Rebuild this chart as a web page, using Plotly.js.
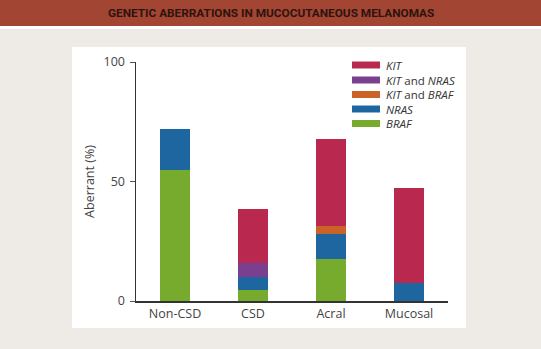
<!DOCTYPE html>
<html><head><meta charset="utf-8">
<script src="https://cdn.plot.ly/plotly-3.0.1.min.js"></script>
<style>html,body{margin:0;padding:0;background:#EEEBE6;}#chart{width:541px;height:349px;}</style>
</head><body><div id="chart"></div>
<script>
// Data
const categories = ["Non-CSD", "CSD", "Acral", "Mucosal"];
const braf      = [55, 4.6, 17.6, 0];
const nras      = [17, 5.6, 10.4, 7.4];
const kitBraf   = [0, 0, 3.4, 0];
const kitNras   = [0, 5.6, 0, 0];
const kit       = [0, 22.6, 36.3, 39.8];
const seriesNames = ["BRAF", "NRAS", "KIT and BRAF", "KIT and NRAS", "KIT"];
const legendLabels = ["<i>KIT</i>", "<i>KIT</i> and <i>NRAS</i>", "<i>KIT</i> and <i>BRAF</i>", "<i>NRAS</i>", "<i>BRAF</i>"];
const yTicks = [0, 50, 100];

const colors = {BRAF:"#76AB2D", NRAS:"#1E66A0", "KIT and BRAF":"#CB6228", "KIT and NRAS":"#7A3F8F", KIT:"#B8284F"};
const seriesVals = [braf, nras, kitBraf, kitNras, kit];

const W = 541, H = 349;
const M = {l:136, r:93, t:62, b:48};
const pw = W - M.l - M.r, ph = H - M.t - M.b;
const px = x => (x - M.l) / pw;
const py = y => (H - M.b - y) / ph;

const traces = seriesNames.map((n, i) => ({
  type: "bar", name: n, x: categories, y: seriesVals[i],
  marker: {color: colors[n], line: {width: 0}}, width: 0.385, showlegend: false, hoverinfo: "none"
}));

const shapes = [
  {type:"rect", xref:"paper", yref:"paper", x0:px(0), x1:px(W), y0:py(26), y1:py(0), fillcolor:"#A34533", line:{width:0}, layer:"below"},
  {type:"rect", xref:"paper", yref:"paper", x0:px(0), x1:px(W), y0:py(29), y1:py(26), fillcolor:"#FFFFFF", line:{width:0}, layer:"below"},
  {type:"rect", xref:"paper", yref:"paper", x0:px(72), x1:px(466), y0:py(328), y1:py(47), fillcolor:"#FFFFFF", line:{width:0}, layer:"below"}
];
const annotations = [
  {xref:"paper", yref:"paper", x:px(270.5), y:py(13.5), text:"<b>GENETIC ABERRATIONS IN MUCOCUTANEOUS MELANOMAS</b>", showarrow:false,
   xanchor:"center", yanchor:"middle", font:{family:"Liberation Sans Narrow, Roboto, sans-serif", size:11.8, color:"#2E140E"}}
];
// Legend (order top to bottom: KIT ... BRAF)
const legOrder = ["KIT", "KIT and NRAS", "KIT and BRAF", "NRAS", "BRAF"];
const rowY = [65, 80, 94.5, 109, 123.5];
legOrder.forEach((n, i) => {
  shapes.push({type:"rect", xref:"paper", yref:"paper", x0:px(352), x1:px(380), y0:py(rowY[i]+3.5), y1:py(rowY[i]-3.5), fillcolor:colors[n], line:{width:0}});
  annotations.push({xref:"paper", yref:"paper", x:px(384), y:py(rowY[i]), text:legendLabels[i], showarrow:false, xanchor:"left", yanchor:"middle",
    font:{family:"Open Sans, sans-serif", size:11.5, color:"#333"}});
});

const layout = {
  width: W, height: H, margin: M,
  paper_bgcolor: "#EEEBE6", plot_bgcolor: "rgba(0,0,0,0)",
  barmode: "stack", bargap: 0.6,
  font: {family: "Open Sans, sans-serif", size: 12, color: "#444"},
  xaxis: {range: [-0.5, 3.5], showline: true, linecolor: "#333", linewidth: 1.5, ticks: "", showgrid: false, zeroline: false,
          tickfont: {size: 12.5, color: "#444"}, fixedrange: true},
  yaxis: {range: [0, 100], tickvals: yTicks, showline: true, linecolor: "#333", linewidth: 1.5, ticks: "outside", ticklen: 5,
          tickcolor: "#555", tickwidth: 1, showgrid: false, zeroline: false, ticklabelstandoff: 2,
          tickfont: {size: 12.5, color: "#444"},
          title: {text: "Aberrant (%)", font: {size: 12.5, color: "#444"}, standoff: 6}},
  shapes: shapes, annotations: annotations, showlegend: false
};
Plotly.newPlot("chart", traces, layout, {staticPlot: true, displayModeBar: false});
</script></body></html>
